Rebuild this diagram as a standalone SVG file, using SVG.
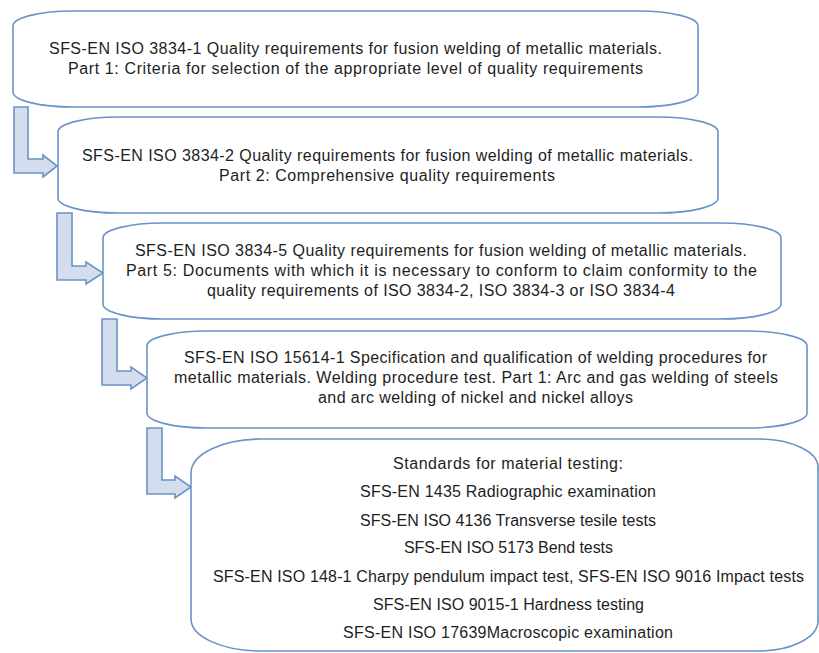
<svg xmlns="http://www.w3.org/2000/svg" width="819" height="653" viewBox="0 0 819 653">
<style>
.box{fill:#ffffff;stroke:#6a93c7;stroke-width:1.6}
.arr{fill:#d3ddee;stroke:#6a93c7;stroke-width:1.6;stroke-linejoin:miter}
text{font-family:"Liberation Sans",Arial,sans-serif;font-size:16px;fill:#1e1e1e}
</style>
<rect width="819" height="653" fill="#ffffff"/>
<g id="connectors">
<path class="arr" d="M14,107 H28 V159 H43 V155 L57,166 L43,177 V173 H14 Z"/>
<path class="arr" d="M57,213 H72 V266 H86 V262 L103,273 L86,284 V280 H57 Z"/>
<path class="arr" d="M102,319 H117 V371 H131 V367 L147,378 L131,389 V385 H102 Z"/>
<path class="arr" d="M147,428 H162 V480 H175 V476 L191,487 L175,498 V494 H147 Z"/>
</g>
<g id="node1">
<path class="box" d="M13,26 A60,15 0 0 1 73,11 H638 A60,15 0 0 1 698,26 V92 A60,15 0 0 1 638,107 H73 A60,15 0 0 1 13,92 Z"/>
<text x="49" y="54" textLength="613">SFS-EN ISO 3834-1 Quality requirements for fusion welding of metallic materials.</text>
<text x="68" y="74" textLength="575">Part 1: Criteria for selection of the appropriate level of quality requirements</text>
</g>
<g id="node2">
<path class="box" d="M58,132 A60,15 0 0 1 118,117 H658 A60,15 0 0 1 718,132 V198 A60,15 0 0 1 658,213 H118 A60,15 0 0 1 58,198 Z"/>
<text x="82" y="161" textLength="611">SFS-EN ISO 3834-2 Quality requirements for fusion welding of metallic materials.</text>
<text x="219" y="181" textLength="336">Part 2: Comprehensive quality requirements</text>
</g>
<g id="node3">
<path class="box" d="M103,238 A60,15 0 0 1 163,223 H721 A60,15 0 0 1 781,238 V304 A60,15 0 0 1 721,319 H163 A60,15 0 0 1 103,304 Z"/>
<text x="135" y="256" textLength="612">SFS-EN ISO 3834-5 Quality requirements for fusion welding of metallic materials.</text>
<text x="126" y="276" textLength="631">Part 5: Documents with which it is necessary to conform to claim conformity to the</text>
<text x="207" y="296" textLength="468">quality requirements of ISO 3834-2, ISO 3834-3 or ISO 3834-4</text>
</g>
<g id="node4">
<path class="box" d="M147,346 A60,15 0 0 1 207,331 H747 A60,15 0 0 1 807,346 V413 A60,15 0 0 1 747,428 H207 A60,15 0 0 1 147,413 Z"/>
<text x="184" y="363" textLength="583">SFS-EN ISO 15614-1 Specification and qualification of welding procedures for</text>
<text x="174" y="383" textLength="604">metallic materials. Welding procedure test. Part 1: Arc and gas welding of steels</text>
<text x="318" y="403" textLength="315">and arc welding of nickel and nickel alloys</text>
</g>
<g id="node5">
<path class="box" d="M191,473 A70,34 0 0 1 261,439 H758 A60,28 0 0 1 818,467 V621 A60,30 0 0 1 758,651 H261 A70,32 0 0 1 191,619 Z"/>
<text x="393" y="469" textLength="230">Standards for material testing:</text>
<text x="360" y="497" textLength="296">SFS-EN 1435 Radiographic examination</text>
<text x="360" y="526" textLength="296">SFS-EN ISO 4136 Transverse tesile tests</text>
<text x="404" y="553" textLength="209">SFS-EN ISO 5173 Bend tests</text>
<text x="213" y="582" textLength="591">SFS-EN ISO 148-1 Charpy pendulum impact test, SFS-EN ISO 9016 Impact tests</text>
<text x="373" y="610" textLength="271">SFS-EN ISO 9015-1 Hardness testing</text>
<text x="343" y="638" textLength="330">SFS-EN ISO 17639Macroscopic examination</text>
</g>
</svg>
